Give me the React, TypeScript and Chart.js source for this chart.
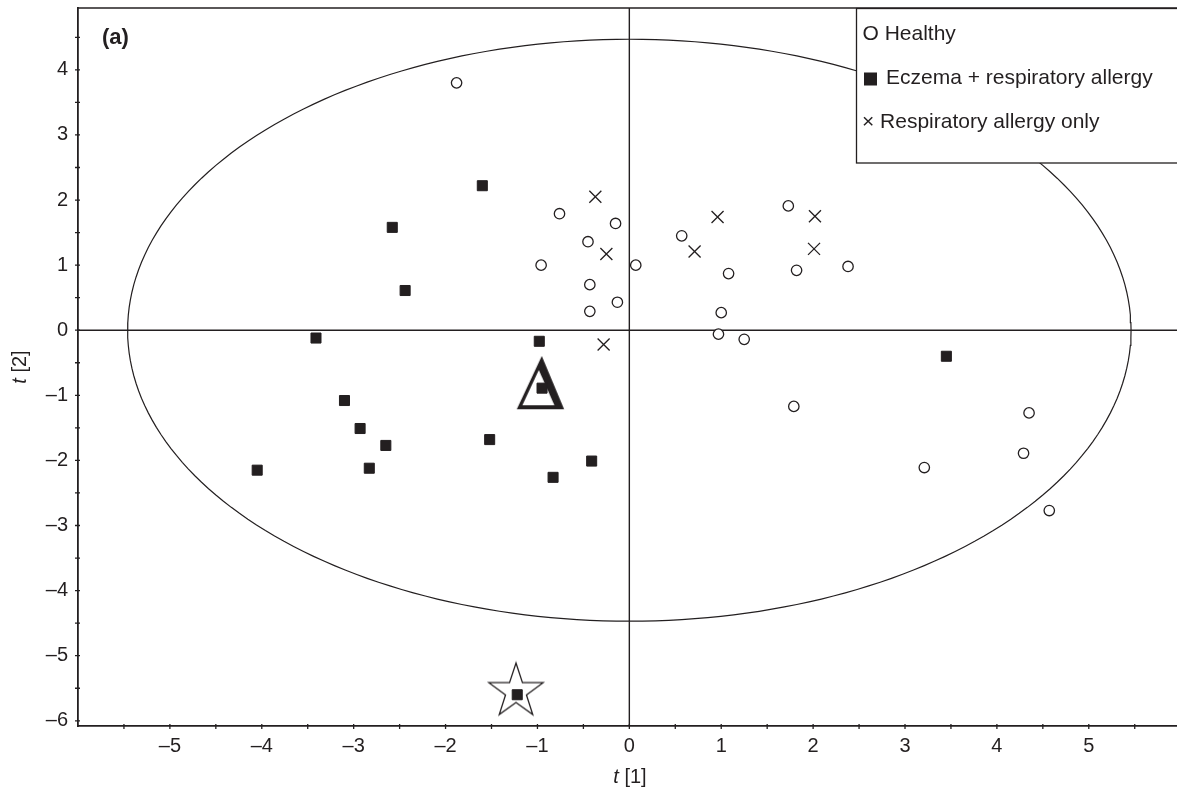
import React, { useEffect, useRef } from 'react';
import { Chart, registerables } from 'chart.js';

Chart.register(...registerables);

const INK = '#231f20';
const FONT = "'Liberation Sans', Arial, Helvetica, sans-serif";

// ---- data (t[1], t[2]) ----
const healthyX = [-1.88, -0.76, -0.15, -0.45, -0.96, 0.07, -0.43, -0.13, -0.43, 0.57, 1.08, 1.0, 0.97, 1.25, 1.73, 1.82, 2.38, 1.79, 4.35, 4.29, 3.21, 4.57];
const healthyY = [3.8, 1.79, 1.64, 1.36, 1.0, 1.0, 0.7, 0.43, 0.29, 1.45, 0.87, 0.27, -0.06, -0.14, 1.91, 0.92, 0.98, -1.17, -1.27, -1.89, -2.11, -2.77];

const eczemaX = [-1.6, -2.58, -2.44, -3.41, -0.98, -0.95, -3.1, -2.93, -2.65, -1.52, -4.05, -2.83, -0.41, -0.83, 3.45, -1.22];
const eczemaY = [2.22, 1.58, 0.61, -0.12, -0.17, -0.89, -1.08, -1.51, -1.77, -1.68, -2.15, -2.12, -2.01, -2.26, -0.4, -5.6];

const respX = [-0.37, -0.25, -0.28, 0.96, 0.71, 2.02, 2.01];
const respY = [2.05, 1.17, -0.22, 1.74, 1.21, 1.75, 1.25];

const triangleMarker = [{ x: -0.964, y: -0.81 }];
const starMarker = [{ x: -1.234, y: -5.55 }];

// Hotelling ellipse half-axes (t[1], t[2])
const ellipseRadii = [5.46, 4.47];

const axisRangeX = [-6, 5.96];
const axisRangeY = [-6.08, 4.95];

const legendLabels = ['O Healthy', 'Eczema + respiratory allergy', '\u00d7 Respiratory allergy only'];
const panelLabel = '(a)';
const xTitleParts = ['t', ' [1]'];
const yTitleParts = ['t', ' [2]'];

const toPoints = (xs: number[], ys: number[]) => xs.map((x, i) => ({ x, y: ys[i] }));

const fmt = (v: number) => {
  const r = Math.round(v);
  if (Math.abs(v - r) > 1e-6) return '';
  return r < 0 ? '\u2013' + Math.abs(r) : String(r);
};

function makeTriangle(): HTMLCanvasElement {
  const c = document.createElement('canvas');
  c.width = 50;
  c.height = 56;
  const g = c.getContext('2d')!;
  g.fillStyle = INK;
  g.beginPath();
  g.moveTo(26, 1);
  g.lineTo(1, 54.3);
  g.lineTo(48.3, 54.3);
  g.closePath();
  g.fill();
  g.fillStyle = '#fff';
  g.beginPath();
  g.moveTo(23, 15);
  g.lineTo(6.6, 50.3);
  g.lineTo(38.6, 50.3);
  g.closePath();
  g.fill();
  return c;
}

function makeStar(): HTMLCanvasElement {
  const c = document.createElement('canvas');
  c.width = 62;
  c.height = 62;
  const g = c.getContext('2d')!;
  const cx = 31, cy = 31, R = 28.5, r = 11;
  g.beginPath();
  for (let i = 0; i < 10; i++) {
    const a = -Math.PI / 2 + (i * Math.PI) / 5;
    const rr = i % 2 === 0 ? R : r;
    const px = cx + rr * Math.cos(a);
    const py = cy + rr * Math.sin(a);
    if (i === 0) g.moveTo(px, py);
    else g.lineTo(px, py);
  }
  g.closePath();
  g.fillStyle = '#fff';
  g.fill();
  g.strokeStyle = INK;
  g.lineWidth = 1.3;
  g.lineJoin = 'miter';
  g.stroke();
  return c;
}

const decorPlugin = {
  id: 'decor',
  beforeDatasetsDraw(chart: any) {
    const { ctx, chartArea, scales } = chart;
    const x0 = scales.x.getPixelForValue(0);
    const y0 = scales.y.getPixelForValue(0);
    ctx.save();
    ctx.strokeStyle = INK;
    ctx.lineWidth = 1.4;
    ctx.beginPath();
    ctx.moveTo(x0, chartArea.top);
    ctx.lineTo(x0, chartArea.bottom);
    ctx.moveTo(chartArea.left, y0);
    ctx.lineTo(chartArea.right, y0);
    ctx.stroke();
    ctx.restore();
  },
  afterDraw(chart: any) {
    const { ctx, chartArea, scales } = chart;
    ctx.save();
    ctx.strokeStyle = INK;
    // top frame line
    ctx.lineWidth = 1.6;
    ctx.beginPath();
    ctx.moveTo(chartArea.left, chartArea.top);
    ctx.lineTo(chartArea.right, chartArea.top);
    ctx.stroke();
    // tick marks crossing the axes
    ctx.lineWidth = 1.3;
    ctx.beginPath();
    scales.x.ticks.forEach((t: any) => {
      const p = scales.x.getPixelForValue(t.value);
      if (p < chartArea.left + 2 || p > chartArea.right - 2) return;
      ctx.moveTo(p, chartArea.bottom - 2);
      ctx.lineTo(p, chartArea.bottom + 3);
    });
    scales.y.ticks.forEach((t: any) => {
      const p = scales.y.getPixelForValue(t.value);
      if (p < chartArea.top + 2 || p > chartArea.bottom + 0.5) return;
      ctx.moveTo(chartArea.left - 3, p);
      ctx.lineTo(chartArea.left + 2, p);
    });
    ctx.stroke();

    // legend box
    ctx.fillStyle = '#fff';
    ctx.fillRect(856.5, 8.5, 340, 154.5);
    ctx.lineWidth = 1.3;
    ctx.strokeRect(856.5, 8.5, 340, 154.5);
    ctx.fillStyle = INK;
    ctx.font = `21px ${FONT}`;
    ctx.textBaseline = 'alphabetic';
    ctx.textAlign = 'left';
    ctx.fillText(legendLabels[0], 862.5, 39.5);
    ctx.fillRect(864, 72.5, 13, 13);
    ctx.fillText(legendLabels[1], 886, 84);
    ctx.fillText(legendLabels[2], 862, 128);

    // panel label
    ctx.font = `bold 22px ${FONT}`;
    ctx.fillText(panelLabel, 102, 44);

    const drawTitle = (parts: string[]) => {
      ctx.font = `italic 20px ${FONT}`;
      const w1 = ctx.measureText(parts[0]).width;
      ctx.font = `20px ${FONT}`;
      const w2 = ctx.measureText(parts[1]).width;
      const start = -(w1 + w2) / 2;
      ctx.font = `italic 20px ${FONT}`;
      ctx.fillText(parts[0], start, 0);
      ctx.font = `20px ${FONT}`;
      ctx.fillText(parts[1], start + w1, 0);
    };
    ctx.save();
    ctx.translate(630, 783);
    drawTitle(xTitleParts);
    ctx.restore();
    ctx.save();
    ctx.translate(26, 367);
    ctx.rotate(-Math.PI / 2);
    drawTitle(yTitleParts);
    ctx.restore();

    ctx.restore();
  },
};

export default function App() {
  const ref = useRef<HTMLCanvasElement | null>(null);

  useEffect(() => {
    if (!ref.current) return;
    const n = 240;
    const ellipse = Array.from({ length: n + 1 }, (_, i) => {
      const a = (i / n) * Math.PI * 2;
      return { x: ellipseRadii[0] * Math.cos(a), y: ellipseRadii[1] * Math.sin(a) };
    });

    const chart = new Chart(ref.current, {
      type: 'scatter',
      data: {
        datasets: [
          {
            label: 'Eczema + respiratory allergy',
            data: toPoints(eczemaX, eczemaY),
            pointStyle: 'rect',
            pointRadius: 7.1,
            backgroundColor: INK,
            borderColor: INK,
            borderWidth: 1,
          },
          {
            label: 'Healthy',
            data: toPoints(healthyX, healthyY),
            pointStyle: 'circle',
            pointRadius: 5.2,
            backgroundColor: '#fff',
            borderColor: INK,
            borderWidth: 1.3,
          },
          {
            label: 'Respiratory allergy only',
            data: toPoints(respX, respY),
            pointStyle: 'crossRot',
            pointRadius: 8.5,
            borderColor: INK,
            borderWidth: 1.3,
          },
          {
            label: 'triangle',
            data: triangleMarker,
            pointStyle: makeTriangle() as any,
            pointRadius: 20,
          },
          {
            label: 'star',
            data: starMarker,
            pointStyle: makeStar() as any,
            pointRadius: 20,
          },
          {
            label: 'ellipse',
            data: ellipse,
            showLine: true,
            pointRadius: 0,
            borderColor: INK,
            borderWidth: 1.2,
            fill: false,
            tension: 0,
          } as any,
        ],
      },
      options: {
        animation: false,
        responsive: false,
        events: [],
        layout: { autoPadding: false, padding: { top: 8, left: 0, right: 0, bottom: 0 } },
        plugins: {
          legend: { display: false },
          tooltip: { enabled: false },
        },
        scales: {
          x: {
            type: 'linear',
            min: axisRangeX[0],
            max: axisRangeX[1],
            afterFit: (s: any) => {
              s.height = 66;
              s.paddingLeft = 0;
              s.paddingRight = 0;
            },
            grid: { display: false, drawTicks: false },
            border: { display: true, color: INK, width: 1.8 },
            ticks: {
              stepSize: 0.5,
              includeBounds: false,
              autoSkip: false,
              maxRotation: 0,
              padding: 8,
              color: INK,
              font: { family: FONT, size: 20 },
              callback: (v: any) => (Math.abs(v) >= 5.99 ? '' : fmt(Number(v))),
            },
          },
          y: {
            type: 'linear',
            min: axisRangeY[0],
            max: axisRangeY[1],
            afterFit: (s: any) => {
              s.width = 78;
              s.paddingTop = 0;
              s.paddingBottom = 0;
            },
            grid: { display: false, drawTicks: false },
            border: { display: true, color: INK, width: 1.8 },
            ticks: {
              stepSize: 0.5,
              includeBounds: false,
              autoSkip: false,
              padding: 10,
              color: INK,
              font: { family: FONT, size: 20 },
              callback: (v: any) => fmt(Number(v)),
            },
          },
        },
      },
      plugins: [decorPlugin],
    });
    return () => chart.destroy();
  }, []);

  return (
    <div
      style={{
        position: 'fixed',
        left: 0,
        top: 0,
        width: 1177,
        height: 792,
        overflow: 'hidden',
        background: '#fff',
      }}
    >
      <canvas ref={ref} width={1177} height={792} style={{ display: 'block' }} />
    </div>
  );
}
